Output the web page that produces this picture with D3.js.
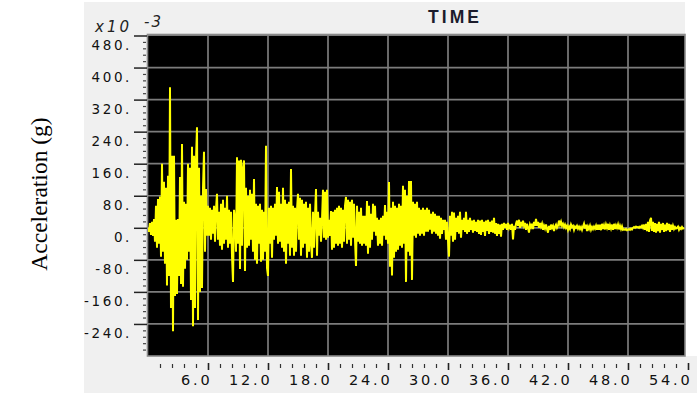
<!DOCTYPE html>
<html>
<head>
<meta charset="utf-8">
<script src="https://cdn.jsdelivr.net/npm/d3@7"></script>
<style>
  html, body { margin: 0; padding: 0; background: #ffffff; }
  svg { display: block; }
</style>
</head>
<body>
<svg id="chart" width="697" height="393"></svg>
<script>
// Ground acceleration record, sampled every 0.1 s, in units of 10^-3 g.
const timeStep = 0.1;
const accel = [
  0, -10, 12, -18, 15, -20, 22, -35, 55, -50,
  72, -40, 78, -72, 160, -60, 115, -90, 100, -144,
  130, -120, 351, -200, 180, -258, 180, -170, 20, -165,
  22, -120, 127, -140, 209, -147, 65, -102, 60, -80,
  160, -60, 150, -180, 202, -246, 180, -200, 170, 251,
  -230, 150, -160, 80, -150, 100, 190, -60, 97, -20,
  55, -20, 50, -30, 45, -15, 55, -35, 47, 85,
  -30, 40, -45, 60, -55, 70, -40, 50, -30, 80,
  -50, 45, -40, 40, -70, -135, 45, 20, -60, 176,
  -40, 168, -103, 170, -45, 150, 168, -108, 100, -50,
  80, -45, 95, -30, 85, -60, 122, -80, 60, -90,
  55, -40, 60, -85, 45, -80, 40, -60, 205, -100,
  -120, 50, -40, 55, -75, 50, -30, 60, -20, 102,
  -40, 90, -35, 60, -50, 100, -60, 70, -90, 60,
  -40, 65, -70, 147, -50, 55, -70, 50, -60, 45,
  85, -30, 75, -70, 70, -50, 60, -40, 65, -75,
  50, -60, 60, -40, -75, 40, -50, 30, 97, -70,
  40, -20, 25, -35, 20, 95, -25, 90, -30, 95,
  -25, 20, -20, 42, -55, 40, -50, 45, -40, 50,
  -45, 55, -40, 50, -50, 45, -35, 55, 77, -40,
  70, -30, 65, -45, 70, -25, 60, -30, -95, 55,
  -35, 40, -40, 50, -45, 30, -40, 30, -45, 67,
  -65, 55, -50, 35, -30, 60, -10, 55, -20, 25,
  -45, 20, -40, 25, -45, 30, -20, 57, -30, 40,
  -40, 114, -97, 50, -119, 65, -75, 55, -60, 50,
  -55, 60, -45, 55, -50, 105, -40, 95, -135, 80,
  -60, 117, -70, 117, -130, 65, -20, 60, -25, 65,
  -15, 50, -20, 45, -15, 50, -20, 45, -10, 50,
  -10, 45, -5, 35, -15, 40, -10, 35, -15, 30,
  -20, 30, -27, 25, -15, 20, -5, 20, -30, 15,
  -30, -72, 30, -20, 40, -35, 38, -30, 25, -10,
  30, -15, 40, -25, 20, -5, 25, -10, 40, -15,
  20, -10, 25, -5, 18, -12, 20, -8, 15, -10,
  20, -15, 18, -18, 20, -10, 15, -20, 18, -8,
  20, -15, 15, -10, 18, -12, 25, -15, 12, -20,
  10, -15, 8, -22, 10, -5, 12, 0, 10, -5,
  12, 0, 8, -5, 10, -29, 5, -5, 10, 18,
  5, 20, 0, 15, 3, 18, 5, 12, -5, 10,
  0, -12, 8, 2, 10, -3, 15, 5, 22, 5,
  15, 0, 12, 3, 10, -5, 5, -2, 8, -3,
  -12, 5, -5, 8, 0, 5, -8, 3, 8, 0,
  5, 18, 8, 15, 5, 10, 2, 8, 0, 5,
  -5, 3, -3, 8, 2, 5, -5, 3, 0, 5,
  -2, 3, -3, 2, -5, 3, 10, -2, 8, -8,
  3, -3, 5, -5, 2, -3, 3, -2, 5, -5,
  8, -5, 8, -6, 10, -3, 6, -4, 8, 0,
  10, -5, 6, -2, 8, -5, 10, -3, 6, 0,
  8, -4, 5, -3, 4, -5, -4, -5, -3, -6,
  -5, -3, -5, -2, -4, 0, 2, 0, 3, 1,
  2, 0, 3, 1, 5, 0, 8, -5, 10, -8,
  15, -10, 18, 25, -8, 15, -10, 12, -12, 10,
  -8, 15, -12, 10, -5, 12, -10, 8, -8, 12,
  -6, 10, -10, 8, -5, 5, -3, 2, -2, 0,
  3, -5, 0, -3, 2, -2, 0
];

// Axis ranges and ticks
const timeDomain = [0, 53.7];
const accelDomain = [-320, 480];
const xTickValues = [6, 12, 18, 24, 30, 36, 42, 48, 54];
const xMinorStep = 1.2;
const yTickValues = [480, 400, 320, 240, 160, 80, 0, -80, -160, -240];
const yMinorStep = 16;
const yExponentBase = "x10";
const yExponentLabel = "-3";
const xTitle = "TIME";
const yTitle = "Acceleration (g)";

const tickFont = "'DejaVu Sans', Verdana, sans-serif";

const svg = d3.select("#chart");
const plot = { left: 148, right: 685, top: 35.5, bottom: 356 };

const x = d3.scaleLinear().domain(timeDomain).range([plot.left, plot.right]);
const y = d3.scaleLinear().domain(accelDomain).range([plot.bottom, plot.top]);

// Panel backgrounds
svg.append("rect").attr("x", 84).attr("y", 2).attr("width", plot.right - 84).attr("height", 393 - 2)
  .attr("fill", "#f0f0f0");
svg.append("rect").attr("x", plot.right).attr("y", plot.bottom).attr("width", 697 - plot.right).attr("height", 393 - plot.bottom)
  .attr("fill", "#f0f0f0");

// Plot area
svg.append("rect").attr("x", plot.left).attr("y", plot.top)
  .attr("width", plot.right - plot.left).attr("height", plot.bottom - plot.top)
  .attr("fill", "#000000");

// Grid
const grid = svg.append("g").attr("stroke", "#7c7c7c").attr("stroke-width", 1.7);
grid.selectAll("line.v")
  .data(xTickValues.filter(d => d > timeDomain[0] && d < timeDomain[1]))
  .join("line")
  .attr("x1", d => x(d)).attr("x2", d => x(d))
  .attr("y1", plot.top).attr("y2", plot.bottom);
grid.selectAll("line.h")
  .data(yTickValues.filter(d => d > accelDomain[0] && d < accelDomain[1]))
  .join("line")
  .attr("x1", plot.left).attr("x2", plot.right)
  .attr("y1", d => y(d)).attr("y2", d => y(d));

// Frame
svg.append("rect").attr("x", plot.left - 0.5).attr("y", plot.top - 1)
  .attr("width", plot.right - plot.left + 0.5).attr("height", plot.bottom - plot.top + 1)
  .attr("fill", "none").attr("stroke", "#8a8a8a").attr("stroke-width", 1.6);

// Acceleration trace
svg.append("clipPath").attr("id", "plot-clip")
  .append("rect").attr("x", plot.left).attr("y", plot.top)
  .attr("width", plot.right - plot.left).attr("height", plot.bottom - plot.top);

const line = d3.line()
  .x((d, i) => x(i * timeStep))
  .y(d => y(d));

svg.append("path")
  .datum(accel)
  .attr("clip-path", "url(#plot-clip)")
  .attr("fill", "none")
  .attr("stroke", "#ffff00")
  .attr("stroke-width", 2)
  .attr("stroke-linejoin", "miter")
  .attr("d", line);

// Y axis: major ticks with labels
const yAxis = svg.append("g")
  .attr("transform", `translate(${plot.left - 1},0)`)
  .call(d3.axisLeft(y).tickValues(yTickValues).tickSize(13).tickFormat(d => d + "."));
yAxis.select(".domain").remove();
yAxis.selectAll(".tick line").attr("stroke", "#222").attr("stroke-width", 1.5);
yAxis.selectAll(".tick text")
  .attr("x", -15).attr("dy", 0).attr("y", 13.5)
  .attr("font-family", tickFont)
  .attr("font-size", 13.5).attr("letter-spacing", 2.6)
  .attr("fill", "#111");

// Y axis: minor ticks
const yMinor = d3.range(accelDomain[0] + yMinorStep, accelDomain[1], yMinorStep)
  .filter(v => !yTickValues.includes(v));
const yMinorAxis = svg.append("g")
  .attr("transform", `translate(${plot.left - 2},0)`)
  .call(d3.axisLeft(y).tickValues(yMinor).tickSize(3).tickFormat(""));
yMinorAxis.select(".domain").remove();
yMinorAxis.selectAll(".tick line").attr("stroke", "#444").attr("stroke-width", 1.2);

// X axis: major ticks with labels
const xAxis = svg.append("g")
  .attr("transform", `translate(0,${plot.bottom + 7})`)
  .call(d3.axisBottom(x).tickValues(xTickValues).tickSize(7).tickFormat(d3.format(".1f")));
xAxis.select(".domain").remove();
xAxis.selectAll(".tick line").attr("stroke", "#222").attr("stroke-width", 1.6);
xAxis.selectAll(".tick text")
  .attr("text-anchor", "end").attr("x", 4).attr("y", 21.5).attr("dy", 0)
  .attr("font-family", tickFont)
  .attr("font-size", 14.5).attr("letter-spacing", 2.8)
  .attr("fill", "#111");

// X axis: minor ticks
const xMinor = d3.range(xMinorStep, 54.1, xMinorStep)
  .map(v => Math.round(v * 10) / 10)
  .filter(v => !xTickValues.includes(v));
const xMinorAxis = svg.append("g")
  .attr("transform", `translate(0,${plot.bottom + 8})`)
  .call(d3.axisBottom(x).tickValues(xMinor).tickSize(4).tickFormat(""));
xMinorAxis.select(".domain").remove();
xMinorAxis.selectAll(".tick line").attr("stroke", "#333").attr("stroke-width", 1.2);

// Titles
svg.append("text")
  .attr("x", 455).attr("y", 23)
  .attr("text-anchor", "middle")
  .attr("font-family", "'Liberation Sans', Arial, sans-serif")
  .attr("font-size", 17.5).attr("font-weight", "bold").attr("letter-spacing", 3)
  .attr("fill", "#1c1c2c")
  .text(xTitle);

svg.append("text")
  .attr("x", 95).attr("y", 32)
  .attr("font-family", tickFont)
  .attr("font-size", 15).attr("font-style", "italic").attr("letter-spacing", 3)
  .attr("fill", "#222")
  .text(yExponentBase);
svg.append("text")
  .attr("x", 144).attr("y", 27)
  .attr("font-family", tickFont)
  .attr("font-size", 15).attr("font-style", "italic").attr("letter-spacing", 2)
  .attr("fill", "#222")
  .text(yExponentLabel);

svg.append("text")
  .attr("transform", "translate(47,194) rotate(-90)")
  .attr("text-anchor", "middle")
  .attr("font-family", "'Liberation Serif', 'Times New Roman', serif")
  .attr("font-size", 23.5)
  .attr("fill", "#000")
  .text(yTitle);
</script>
</body>
</html>
